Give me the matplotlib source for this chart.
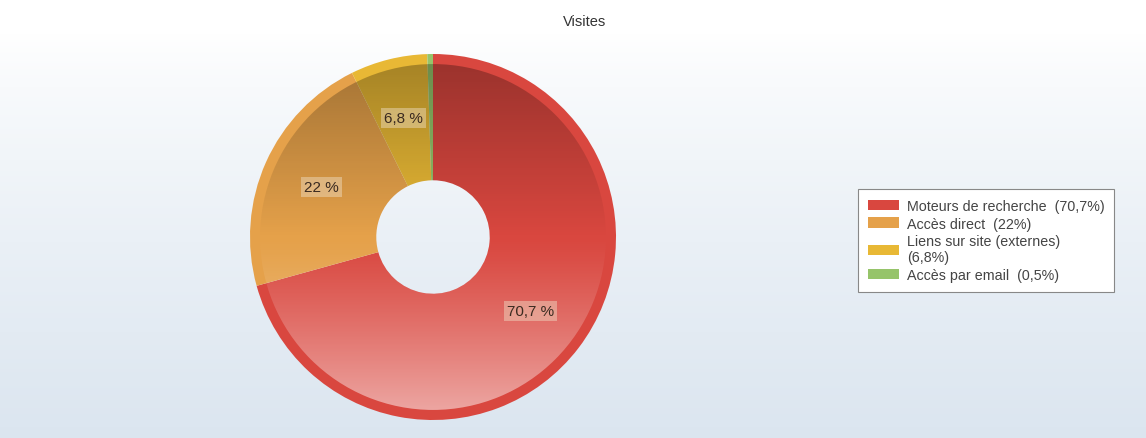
import numpy as np
import matplotlib
matplotlib.use("Agg")
import matplotlib.pyplot as plt
from matplotlib.patches import Wedge, Patch

labels = ["Moteurs de recherche", "Accès direct", "Liens sur site (externes)", "Accès par email"]
values = [70.7, 22, 6.8, 0.5]
colors = ["#d9473f", "#e5a14a", "#e8b835", "#96c46a"]
legend_text = ["Moteurs de recherche  (70,7%)", "Accès direct  (22%)",
               "Liens sur site (externes)\n(6,8%)", "Accès par email  (0,5%)"]


def fmt(v):
    return f"{v:g}".replace(".", ",") + " %"


W, H = 1146, 439
fig = plt.figure(figsize=(W / 100, H / 100), dpi=100)

# background gradient, white at top to pale blue-grey at bottom
bg = fig.add_axes([0, 0, 1, 1])
t = np.linspace(0, 1, 256)[:, None]
top = np.array([1.0, 1.0, 1.0])
bot = np.array([0.86, 0.90, 0.94])
grad = np.clip((t - 0.08) / 0.92, 0, 1) ** 0.8
img = top + (bot - top) * grad[..., None]
bg.imshow(np.repeat(img, 2, axis=1), aspect="auto", extent=[0, 1, 0, 1])
bg.set_axis_off()

fig.text(585 / W, 1 - 22 / H, "Visites", ha="center", va="center",
         fontsize=10.5, color="#333333", family="Liberation Sans")

# donut
cx, cy, R = 433, H - 238, 183
half = 190
ax = fig.add_axes([(cx - half) / W, (cy - half) / H, 2 * half / W, 2 * half / H])

hole = 0.31
rim = 0.945
wedges, _ = ax.pie(values, colors=colors, startangle=90, counterclock=False,
                   radius=1.0, wedgeprops=dict(width=1 - hole, linewidth=0))

# shading of the inner ring: darker at top, lighter at bottom
ring = Wedge((0, 0), rim, 0, 360, width=rim - hole, transform=ax.transData)
n = 300
yy = np.linspace(1, -1, n)
shade = np.zeros((n, 2, 4))
for i, y in enumerate(yy):
    if y > 0:
        shade[i, :, :3] = 0.0
        shade[i, :, 3] = 0.3 * y
    else:
        shade[i, :, :3] = 1.0
        shade[i, :, 3] = 0.55 * (-y) ** 1.2
im = ax.imshow(shade, extent=[-1, 1, -1, 1], zorder=3, interpolation="bilinear")
im.set_clip_path(ring)

# pie() resets the limits, so set them last
lim = half / R
ax.set_xlim(-lim, lim)
ax.set_ylim(-lim, lim)
ax.set_aspect("equal")
ax.set_axis_off()

for w, v in zip(wedges, values):
    if v < 2:
        continue
    ang = np.deg2rad((w.theta1 + w.theta2) / 2)
    r = 0.67
    ax.text(r * np.cos(ang), r * np.sin(ang), fmt(v), ha="center", va="center",
            fontsize=11, color="#3a2a20", zorder=5, family="Liberation Sans",
            bbox=dict(boxstyle="square,pad=0.2", facecolor="#f0e0c8",
                      alpha=0.45, edgecolor="none"))

handles = [Patch(facecolor=c, edgecolor="none") for c in colors]
leg = fig.legend(handles, legend_text, loc="upper left",
                 bbox_to_anchor=(858 / W, 1 - 190 / H), borderaxespad=0,
                 frameon=True, fancybox=False, framealpha=1,
                 edgecolor="#888888", handlelength=2.2, handleheight=0.75,
                 handletextpad=0.5, labelspacing=0.25, borderpad=0.7,
                 prop={"family": "Liberation Sans", "size": 10.3})
for txt in leg.get_texts():
    txt.set_color("#444444")
leg.get_frame().set_linewidth(0.8)

fig.savefig("out.png", dpi=100)
